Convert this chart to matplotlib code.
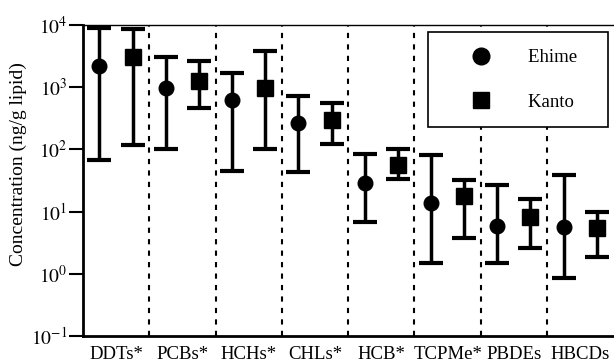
import matplotlib
matplotlib.use("Agg")
import matplotlib.pyplot as plt
from matplotlib.lines import Line2D
import numpy as np

plt.rcParams['font.family'] = ['Liberation Serif', 'DejaVu Serif']
plt.rcParams['mathtext.fontset'] = 'stix'

compounds = ["DDTs*", "PCBs*", "HCHs*", "CHLs*", "HCB*", "TCPMe*", "PBDEs", "HBCDs"]

ehime_mid = [2200, 980, 620, 265, 29, 14, 5.9, 5.7]
ehime_low = [68, 100, 45, 43, 6.9, 1.5, 1.5, 0.87]
ehime_high = [9000, 3100, 1700, 720, 85, 82, 27, 39]

kanto_mid = [3100, 1260, 980, 295, 56, 18, 8.3, 5.5]
kanto_low = [118, 465, 100, 123, 33, 3.8, 2.6, 1.85]
kanto_high = [8700, 2600, 3800, 560, 100, 32, 16, 10]

fig = plt.figure(figsize=(6.14, 3.64), dpi=100)
ax = fig.add_axes([0.135, 0.077, 0.864, 0.854])

x = np.arange(len(compounds))

def draw(xpos, mid, low, high, marker, ms):
    mid = np.array(mid)
    err = [mid - np.array(low), np.array(high) - mid]
    ax.errorbar(xpos, mid, yerr=err, fmt=marker, color='black', ms=ms,
                elinewidth=2.5, capsize=8.5, capthick=3)

draw(x - 0.25, ehime_mid, ehime_low, ehime_high, 'o', 10.5)
draw(x + 0.25, kanto_mid, kanto_low, kanto_high, 's', 11)

for sep in x[:-1] + 0.5:
    ax.axvline(sep, color='black', lw=1.5, linestyle=(0, (2.5, 3)))

ax.set_yscale('log')
ax.set_ylim(0.1, 1e4)
ax.set_xlim(-0.5, 7.5)
ax.set_xticks(x)
ax.set_xticklabels(compounds, fontsize=13.5)
ax.tick_params(axis='x', length=0, pad=7)
ax.set_yticks([0.1, 1, 10, 100, 1000, 10000])
ax.minorticks_off()
ax.tick_params(axis='y', direction='out', length=10, width=1.5, labelsize=14, pad=1)
ax.set_yticklabels([r'$10^{-1}$', r'$10^{0}$', r'$10^{1}$', r'$10^{2}$', r'$10^{3}$', r'$10^{4}$'])
ax.set_ylabel("Concentration (ng/g lipid)", fontsize=14)
ax.yaxis.set_label_coords(-0.105, 0.553)

ax.spines['left'].set_linewidth(2)
ax.spines['bottom'].set_linewidth(2)
ax.spines['top'].set_linewidth(1)
ax.spines['right'].set_visible(False)

handles = [Line2D([], [], marker='o', ls='none', color='black', ms=12),
           Line2D([], [], marker='s', ls='none', color='black', ms=12)]
leg = ax.legend(handles, ["Ehime   ", "Kanto   "], loc='upper left',
                bbox_to_anchor=(0.65, 0.977), fontsize=13.5, fancybox=False,
                edgecolor='black', framealpha=1, borderpad=0.9, labelspacing=1.45,
                handletextpad=0.6, handlelength=3.84, borderaxespad=0)
leg.get_frame().set_linewidth(1.2)

fig.savefig("out.png", dpi=100)
